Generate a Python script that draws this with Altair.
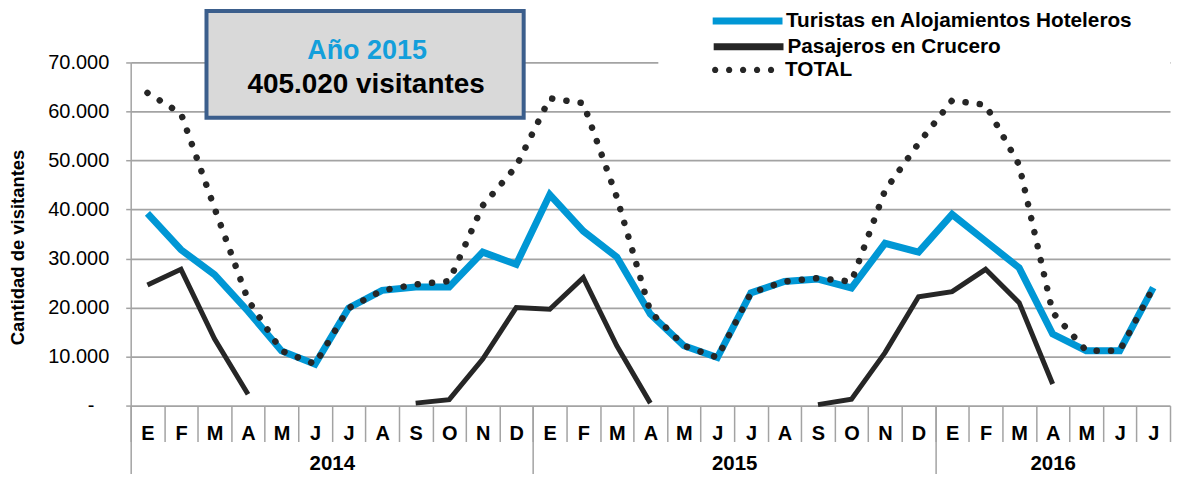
import altair as alt
import pandas as pd

# ---------------- data ----------------
MESES = ["E", "F", "M", "A", "M", "J", "J", "A", "S", "O", "N", "D"]
ANIOS = ["2014", "2015", "2016"]
MESES_POR_ANIO = [12, 12, 7]

SERIES = ["Turistas en Alojamientos Hoteleros", "Pasajeros en Crucero", "TOTAL"]

TURISTAS = [39200, 31800, 26700, 19250, 11150, 8450, 19900, 23500, 24200, 24200, 31300, 28800,
            43050, 35600, 30300, 18650, 12200, 9800, 23000, 25300, 25800, 24000, 33100, 31300,
            39000, 33550, 28100, 14600, 11200, 11200, 24050]
CRUCERO = [24600, 27800, 13600, 2300, None, None, None, None, 500, 1200, 9500, 20000,
           19650, 26100, 12200, 500, None, None, None, None, 200, 1300, 10800, 22200,
           23250, 27800, 21000, 4400, None, None, None]
TOTAL = [63800, 59600, 40300, 21550, 11150, 8450, 19900, 23500, 24700, 25400, 40800, 48800,
         62700, 61700, 42500, 19150, 12200, 9800, 23000, 25300, 26000, 25300, 43900, 53500,
         62250, 61350, 49100, 19000, 11200, 11200, 24050]

Y_TICKS = [0, 10000, 20000, 30000, 40000, 50000, 60000, 70000]
ANNOT_TITLE = "Año 2015"
ANNOT_VALUE = "405.020 visitantes"

# ---------------- styling ----------------
FONT = "Liberation Sans"
BLUE = "#0097D5"
DARK = "#262626"
GRID = "#A3A3A3"
N = len(TURISTAS)
W, H = 1042, 344
LEG_FS = 20.8

rows = []
for serie, vals in zip(SERIES, [TURISTAS, CRUCERO, TOTAL]):
    for i, v in enumerate(vals):
        rows.append({"mes": i, "serie": serie, "valor": v})
df = pd.DataFrame(rows)

month_expr = f"{MESES!r}[datum.value % 12]"

x_enc = alt.X(
    "mes:O",
    scale=alt.Scale(type="band", domain=list(range(N)), paddingInner=0, paddingOuter=0),
    axis=alt.Axis(
        orient="bottom", title=None, labelExpr=month_expr, tickBand="extent",
        tickSize=36, tickColor=GRID, tickWidth=1.5, labelPadding=-18,
        labelFont=FONT, labelFontSize=20, labelFontWeight="bold", labelColor="black",
        labelAngle=0, domain=False, grid=False,
    ),
)
y_enc = alt.Y(
    "valor:Q",
    scale=alt.Scale(domain=[0, 70000], nice=False),
    axis=alt.Axis(
        title="Cantidad de visitantes", values=Y_TICKS,
        labelExpr="datum.value == 0 ? '-' : replace(format(datum.value, ',.0f'), ',', '.')",
        labelFont=FONT, labelFontSize=20, labelColor="black",
        labelPadding={"condition": {"test": "datum.value == 0", "value": 32}, "value": 17},
        tickSize=5, tickColor=GRID, tickWidth=1.5,
        gridColor=GRID, gridWidth=1.75, domainColor=GRID, domainWidth=1.5,
        titleFont=FONT, titleFontSize=18.5, titleFontWeight="bold", titleColor="black",
        titlePadding=20, titleY=185,
    ),
)


def legend(x, y, offset, stroke_w):
    return alt.Legend(
        orient="none", legendX=x, legendY=y, symbolType="stroke", symbolSize=4900,
        symbolStrokeWidth=stroke_w, clipHeight=20, padding=0, labelOffset=offset,
        labelLimit=600,
        labelFont=FONT, labelFontSize=LEG_FS, labelFontWeight="bold", labelColor="black",
    )


base = alt.Chart(df)

blue = base.transform_filter(alt.datum.serie == SERIES[0]).mark_line(
    strokeWidth=7, invalid="break-paths-show-domains"
).encode(
    x=x_enc, y=y_enc,
    color=alt.Color("serie:N", title=None,
                    scale=alt.Scale(domain=[SERIES[0]], range=[BLUE]),
                    legend=legend(580, -51.5, 0, 7)),
)

black = base.transform_filter(alt.datum.serie == SERIES[1]).mark_line(
    strokeWidth=5, invalid="break-paths-show-domains"
).encode(
    x=x_enc, y=y_enc,
    color=alt.Color("serie:N", title=None,
                    scale=alt.Scale(domain=[SERIES[1]], range=[DARK]),
                    legend=legend(581, -25.8, 0.5, 7)),
)

dotted = base.transform_filter(alt.datum.serie == SERIES[2]).mark_line(
    strokeWidth=6.5, strokeDash=[0.1, 14.3], strokeCap="round",
    invalid="break-paths-show-domains"
).encode(
    x=x_enc, y=y_enc,
    color=alt.Color("serie:N", scale=alt.Scale(domain=[SERIES[2]], range=[DARK]), legend=None),
)

# legend entry for the dotted series (symbol drawn as five dots)
r = 0.09
DOTS = "".join(
    f"M{cx - r:.3f},0A{r},{r},0,1,0,{cx + r:.3f},0A{r},{r},0,1,0,{cx - r:.3f},0Z"
    for cx in [-0.8, -0.4, 0.0, 0.4, 0.8]
)
total_legend = base.transform_filter("false").mark_point(
    filled=True, shape=DOTS, size=4900, opacity=1
).encode(
    x=x_enc, y=y_enc,
    color=alt.Color("serie:N", title=None,
                    scale=alt.Scale(domain=[SERIES[2]], range=[DARK]),
                    legend=alt.Legend(
                        orient="none", legendX=579, legendY=-2.5, symbolSize=4900,
                        symbolStrokeWidth=0, clipHeight=20, padding=0, labelOffset=7,
                        labelLimit=600,
                        labelFont=FONT, labelFontSize=LEG_FS, labelFontWeight="bold",
                        labelColor="black")),
)

lines = alt.layer(blue, black, dotted, total_legend).resolve_scale(color="independent")

# year axis (second band of the category axis)
bounds, mids, labels = [], [], []
start = 0
for a, n in zip(ANIOS, MESES_POR_ANIO):
    bounds.append(start)
    mids.append(start + n / 2)
    labels.append(a)
    start += n
year_expr = " : ".join(f"datum.value == {m} ? '{a}'" for m, a in zip(mids, labels)) + " : ''"
year_df = pd.DataFrame({"pos": [0, N]})
years = alt.Chart(year_df).mark_point(opacity=0).encode(
    x=alt.X("pos:Q", scale=alt.Scale(domain=[0, N], nice=False, zero=False),
            axis=alt.Axis(
                orient="bottom", title=None, values=sorted(bounds + mids),
                labelExpr=year_expr, tickSize=68, tickColor=GRID, tickWidth=1.5,
                tickOpacity={"condition": {"test": "datum.value % 12 == 0", "value": 1}, "value": 0},
                labelPadding=-20, labelFont=FONT, labelFontSize=20.5, labelFontWeight="bold",
                labelColor="black", domain=False, grid=False, labelFlush=False,
                labelOverlap=False, labelBound=False,
            )),
)

# annotation box
annot = pd.DataFrame({"t1": [ANNOT_TITLE], "t2": [ANNOT_VALUE]})
box = alt.Chart(annot).mark_rect(fill="#D9D9D9", stroke="#3B5E8C", strokeWidth=4).encode(
    x=alt.value(76), x2=alt.value(394), y=alt.value(-51.5), y2=alt.value(55.5)
)
cover = alt.Chart(annot).mark_rect(fill="white").encode(
    x=alt.value(529), x2=alt.value(W), y=alt.value(-3), y2=alt.value(3)
)
t1 = alt.Chart(annot).mark_text(
    font=FONT, fontSize=27, fontWeight="bold", color="#139FDB", align="center", baseline="alphabetic"
).encode(text="t1:N", x=alt.value(237), y=alt.value(-3))
t2 = alt.Chart(annot).mark_text(
    font=FONT, fontSize=28, fontWeight="bold", color="black", align="center", baseline="alphabetic"
).encode(text="t2:N", x=alt.value(236), y=alt.value(31))

chart = alt.layer(cover, box, t1, t2, lines, years).resolve_scale(x="independent").properties(
    width=W, height=H, padding={"left": 0, "top": 0, "right": 0, "bottom": 0},
    background="white",
).configure_view(stroke="transparent")

chart.save("out.html", embed_options={"renderer": "svg", "actions": False})
